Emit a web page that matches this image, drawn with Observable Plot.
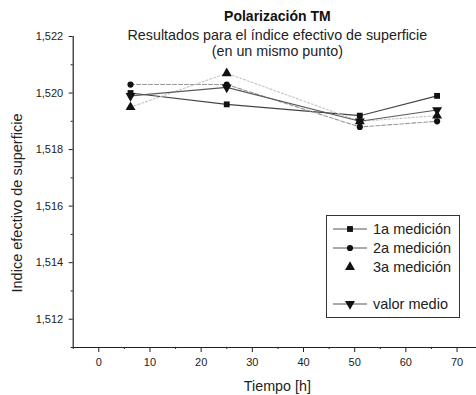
<!DOCTYPE html>
<html>
<head>
<meta charset="utf-8">
<script src="https://cdn.jsdelivr.net/npm/d3@7"></script>
<script src="https://cdn.jsdelivr.net/npm/@observablehq/plot@0.6"></script>
<style>
  html, body { margin: 0; padding: 0; background: #fff; }
  #chart { position: relative; width: 476px; height: 395px; font-family: "Liberation Sans", Arial, sans-serif; }
  #legend { position: absolute; left: 326px; top: 215px; }
</style>
</head>
<body>
<div id="chart"></div>
<script>
// Tiempo de medida [h]
const tiempos = [6.2, 25, 51, 66.1];

// Índice efectivo de superficie, polarización TM
const medicion1 = [1.5200, 1.5196, 1.5192, 1.5199];
const medicion2 = [1.5203, 1.5203, 1.5188, 1.5190];
const medicion3 = [1.5195, 1.5207, 1.5190, 1.5192];
const valorMedio = [1.5199, 1.5202, 1.5190, 1.5194];

const nombres = ["1a medición", "2a medición", "3a medición", "valor medio"];

const yTicks = [1.512, 1.514, 1.516, 1.518, 1.520, 1.522];
const yMinor = [1.511, 1.513, 1.515, 1.517, 1.519, 1.521];
const xTicks = [0, 10, 20, 30, 40, 50, 60, 70];
const xMinor = [-5, 5, 15, 25, 35, 45, 55, 65];

const titulo = "Polarización TM";
const subtitulo1 = "Resultados para el índice efectivo de superficie";
const subtitulo2 = "(en un mismo punto)";
const etiquetaX = "Tiempo [h]";
const etiquetaY = "Indice efectivo de superficie";

// downward-pointing triangle for the mean series
const triangleDown = {
  draw(context, size) {
    const y = -Math.sqrt(size / (Math.sqrt(3) * 3));
    context.moveTo(0, -y * 2);
    context.lineTo(-Math.sqrt(3) * y, y);
    context.lineTo(Math.sqrt(3) * y, y);
    context.closePath();
  }
};

const series = [
  {name: nombres[0], values: medicion1, stroke: "#444", dash: null, symbol: "square", r: 3.3},
  {name: nombres[1], values: medicion2, stroke: "#999", dash: "4,2", symbol: "circle", r: 3.1},
  {name: nombres[2], values: medicion3, stroke: "#c4c4c4", dash: "2,2", symbol: "triangle", r: 3.7},
  {name: nombres[3], values: valorMedio, stroke: "#5a5a5a", dash: null, symbol: triangleDown, r: 3.7}
];

const rows = series.flatMap((s, k) => s.values.map((v, i) => ({serie: s.name, k, t: tiempos[i], n: v})));

const fmt = d => d.toFixed(3).replace(".", ",");

const marks = [];
// series lines (drawn first so markers sit on top)
series.forEach((s, k) => {
  marks.push(Plot.line(rows.filter(d => d.k === k), {
    x: "t", y: "n", stroke: s.stroke, strokeWidth: 1.1, strokeDasharray: s.dash
  }));
});
series.forEach((s, k) => {
  marks.push(Plot.dot(rows.filter(d => d.k === k), {
    x: "t", y: "n", symbol: () => s.symbol, r: s.r, fill: "#111", stroke: "none"
  }));
});

const label = {textAnchor: "middle", lineAnchor: "middle", fill: "#222"};

marks.push(
  // axis lines
  Plot.ruleX([-5], {stroke: "#222", strokeWidth: 1.2}),
  Plot.ruleY([1.511], {stroke: "#222", strokeWidth: 1.2}),
  Plot.axisY({ticks: yTicks, tickSize: 4, tickPadding: 6, tickFormat: fmt, label: null, fontSize: 11, color: "#222"}),
  Plot.axisY({ticks: yMinor, tickSize: 2, tickFormat: () => "", label: null, color: "#222"}),
  Plot.axisX({ticks: xTicks, tickSize: 5, tickPadding: 6, tickFormat: d => String(d), label: null, fontSize: 11, color: "#222"}),
  Plot.axisX({ticks: xMinor, tickSize: 2, tickFormat: () => "", label: null, color: "#222"}),
  // titles and axis labels
  Plot.text([titulo], {...label, frameAnchor: "top", dx: 2.5, dy: -20, fontWeight: "bold", fontSize: 14, fill: "#111"}),
  Plot.text([subtitulo1], {...label, frameAnchor: "top", dx: 2.5, dy: -1.5, fontSize: 14.3}),
  Plot.text([subtitulo2], {...label, frameAnchor: "top", dx: 2.5, dy: 14.5, fontSize: 14.3}),
  Plot.text([etiquetaX], {...label, frameAnchor: "bottom", dx: 2.5, dy: 39, fontSize: 14.3}),
  Plot.text([etiquetaY], {...label, frameAnchor: "left", rotate: -90, dx: -56, dy: 11, fontSize: 14.5})
);

const plot = Plot.plot({
  width: 476,
  height: 395,
  marginLeft: 72.7,
  marginRight: 0,
  marginTop: 36,
  marginBottom: 48,
  style: {fontFamily: '"Liberation Sans", Arial, sans-serif', background: "#fff", color: "#222", overflow: "visible"},
  x: {domain: [-5, 73.8]},
  y: {domain: [1.511, 1.522]},
  marks
});

const chart = document.getElementById("chart");
chart.appendChild(plot);

// legend box
const lw = 133, lh = 102;
const rowY = [14, 33, 52, 89];
const legend = d3.select(chart).append("svg")
  .attr("id", "legend")
  .attr("width", lw + 1).attr("height", lh + 1)
  .style("font-family", '"Liberation Sans", Arial, sans-serif');

legend.append("rect")
  .attr("x", 0.5).attr("y", 0.5).attr("width", lw).attr("height", lh)
  .attr("fill", "#fff").attr("stroke", "#333").attr("stroke-width", 1);

const legendSymbol = [d3.symbolSquare, d3.symbolCircle, d3.symbolTriangle, triangleDown];
const legendLine = [true, true, false, true];

series.forEach((s, k) => {
  const g = legend.append("g").attr("transform", `translate(0,${rowY[k]})`);
  if (legendLine[k]) {
    g.append("line").attr("x1", 7).attr("x2", 41).attr("y1", 0).attr("y2", 0)
      .attr("stroke", "#555").attr("stroke-width", 1);
  }
  g.append("path")
    .attr("transform", "translate(24,0)")
    .attr("d", d3.symbol(legendSymbol[k], Math.PI * s.r * s.r)())
    .attr("fill", "#111");
  g.append("text")
    .attr("x", 47).attr("y", 0).attr("dy", "0.35em")
    .attr("font-size", 14.5).attr("fill", "#222")
    .text(s.name);
});
</script>
</body>
</html>
